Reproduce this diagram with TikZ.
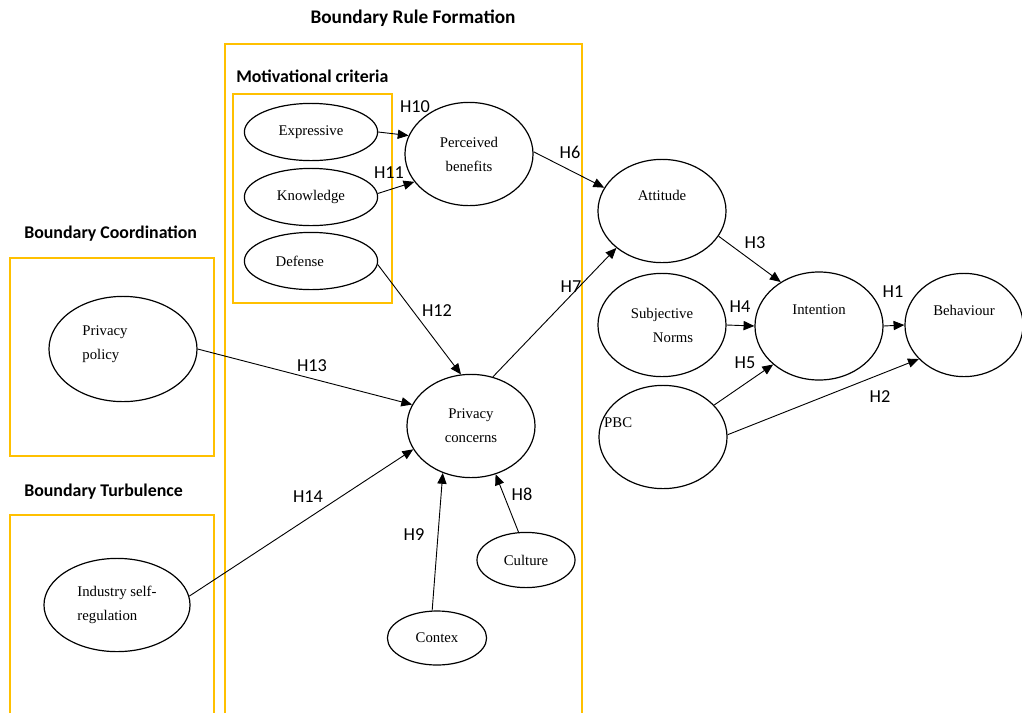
\documentclass[tikz,border=0pt]{standalone}
\usepackage{fontspec}
\setmainfont{Liberation Serif}
\newfontfamily\calibri{Carlito}
\usepackage{tikz}
\usetikzlibrary{arrows.meta,shapes.geometric}
\definecolor{gold}{RGB}{255,192,0}
\newcommand{\nodefont}{\fontsize{10.5}{17}\selectfont}

\begin{document}
\begin{tikzpicture}[
x=0.025cm, y=-0.025cm,
construct/.style={draw, ellipse, line width=0.85pt, inner sep=0pt, font=\nodefont, align=center},
crit/.style={construct, minimum width=3.33cm, minimum height=1.43cm},
core/.style={construct, minimum width=3.2cm, minimum height=2.58cm},
hyp/.style={font=\calibri\fontsize{13}{15}\selectfont, inner sep=0pt},
heading/.style={font=\calibri\bfseries\fontsize{12.7}{15}\selectfont, inner sep=0pt},
zone/.style={draw=gold, line width=0.9pt},
arrow/.style={-{Triangle[length=2.7mm, width=2.3mm]}, line width=0.65pt},
every label/.append style={font=\nodefont, align=center, inner sep=0pt}
]
\useasboundingbox (0,0) rectangle (1022,713);
\node[heading, font=\calibri\bfseries\fontsize{13.7}{16}\selectfont] (brf) at (413,18) {Boundary Rule Formation};
\node[heading, anchor=west] (mc) at (236,76) {Motivational criteria};
\node[heading, anchor=west] (bc) at (24,234) {Boundary Coordination};
\node[heading, anchor=west] (bt) at (24,492) {Boundary Turbulence};
\draw[zone] (225,713) -- (225,44) -- (582,44) -- (582,713);
\draw[zone] (233,94) rectangle (392,303);
\draw[zone] (10,258) rectangle (214,456);
\draw[zone] (10,713) -- (10,515) -- (214,515) -- (214,713);

\node[crit] (expr) at (311,132) {Expressive};
\node[crit] (know) at (311,197) {Knowledge};
\node[crit, label={[xshift=-0.28cm]center:Defense}] (def) at (311,261) {};
\node[core] (pb) at (469,154) {Perceived\\benefits};
\node[core, label={[yshift=0.39cm]center:Attitude}] (att) at (662,211) {};
\node[core] (pc) at (471,426) {Privacy\\concerns};
\node[construct, minimum width=3.7cm, minimum height=2.63cm, label={[xshift=-0.45cm, yshift=0.11cm, align=left]center:Privacy\\policy}] (pp) at (123,349) {};
\node[construct, minimum width=3.65cm, minimum height=2.33cm, align=left] (isr) at (117,605) {Industry self-\\regulation};
\node[construct, minimum width=2.48cm, minimum height=1.35cm] (ctx) at (437,638) {Contex};
\node[construct, minimum width=2.45cm, minimum height=1.38cm] (cul) at (526,560) {Culture};
\node[core, align=right] (sn) at (662,325) {Subjective\\Norms};
\node[core, minimum height=2.7cm, label={[yshift=0.42cm]center:Intention}] (int) at (819,326) {};
\node[core, minimum width=2.95cm, label={[yshift=0.37cm]center:Behaviour}] (beh) at (964,325) {};
\node[core, label={[xshift=-1.12cm, yshift=0.35cm]center:PBC}] (pbc) at (663,437) {};

\draw[arrow] (expr.0) -- (pb.163);
\draw[arrow] (know.3) -- (pb.207);
\draw[arrow] (def.357) -- (pc.101);
\draw[arrow] (pp.0) -- (pc.160);
\draw[arrow] (isr.7) -- (pc.202);
\draw[arrow] (ctx.100) -- (pc.239);
\draw[arrow] (cul.105) -- (pc.297);
\draw[arrow] (pb.2) -- (att.158);
\draw[arrow] (pc.66) -- (att.219);
\draw[arrow] (att.336) -- (int.131);
\draw[arrow] (sn.0) -- (int.180);
\draw[arrow] (pbc.32) -- (int.220);
\draw[arrow] (int.0) -- (beh.180);
\draw[arrow] (pbc.2) -- (beh.217);

\node[hyp] (h10) at (415,107) {H10};
\node[hyp] (h11) at (389,173) {H11};
\node[hyp] (h12) at (437,311) {H12};
\node[hyp] (h6) at (570,152) {H6};
\node[hyp] (h7) at (571,287) {H7};
\node[hyp] (h13) at (312,366) {H13};
\node[hyp] (h14) at (308,497) {H14};
\node[hyp] (h9) at (414,535) {H9};
\node[hyp] (h8) at (522,494) {H8};
\node[hyp] (h3) at (755,243) {H3};
\node[hyp] (h4) at (740,307) {H4};
\node[hyp] (h5) at (745,363) {H5};
\node[hyp] (h1) at (893,292) {H1};
\node[hyp] (h2) at (880,397) {H2};
\end{tikzpicture}
\end{document}
